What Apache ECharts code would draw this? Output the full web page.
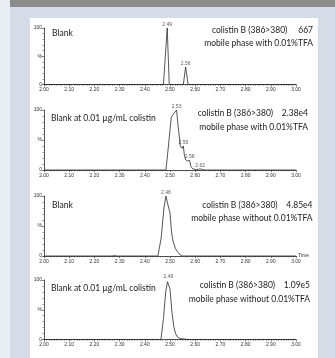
<!DOCTYPE html>
<html>
<head>
<meta charset="utf-8">
<script src="https://cdn.jsdelivr.net/npm/echarts@6/dist/echarts.min.js"></script>
<style>
  html, body { margin:0; padding:0; }
  body { width:335px; height:358px; position:relative; background:#d5dce8; overflow:hidden; }
  .abs { position:absolute; }
</style>
</head>
<body>
<div class="abs" style="left:0;top:0;width:10px;height:358px;background:#e9edf4;"></div>
<div class="abs" style="left:10px;top:0;width:325px;height:7px;background:#8c8c8c;"></div>
<div class="abs" style="left:30px;top:18px;width:288px;height:340px;background:#ffffff;"></div>
<div id="chart" class="abs" style="left:0;top:0;width:335px;height:358px;"></div>
<script>
// ---- data ----
const xTickLabels = ['2.00','2.10','2.20','2.30','2.40','2.50','2.60','2.70','2.80','2.90','3.00'];
const yTickLabels = {0:'0', 50:'%', 100:'100'};

const time1   = [2.00, 2.474, 2.489, 2.497, 2.553, 2.562, 2.572, 3.00];
const signal1 = [0,    0,     100,   0,     0,     31,    0,     0];
const peakT1  = [2.489, 2.562];
const peakY1  = [100, 31];

const time2   = [2.00, 2.484, 2.495, 2.505, 2.515, 2.526, 2.533, 2.541, 2.548, 2.553, 2.557, 2.562, 2.570, 2.578, 2.583, 2.590, 2.600, 2.612, 2.620, 2.630, 2.640, 3.00];
const signal2 = [0,    0,     45,    88,    94,    100,   70,    40,    36,    40,    25,    17,    15,    16,    6,     2,     1,     1,     2,     0.5,   0,     0];
const peakT2  = [2.526, 2.553, 2.578, 2.620];
const peakY2  = [100, 40, 16, 2];

const time3   = [2.00, 2.27, 2.28, 2.29, 2.452, 2.465, 2.476, 2.484, 2.492, 2.500, 2.506, 2.512, 2.522, 2.535, 2.548, 3.00];
const signal3 = [0,    0,    0.8,  0,    0,     30,    80,    100,   85,    72,    40,    25,    12,    4,     0,     0];
const peakT3  = [2.484];
const peakY3  = [100];

const time4   = [2.00, 2.464, 2.474, 2.483, 2.490, 2.494, 2.500, 2.508, 2.515, 2.522, 2.530, 2.540, 2.555, 2.575, 3.00];
const signal4 = [0,    0,     35,    80,    97,    100,   85,    45,    22,    10,    4,     1.5,   0.8,   0,     0];
const peakT4  = [2.494];
const peakY4  = [100];

const leftTitles  = ['Blank', 'Blank at 0.01 µg/mL colistin', 'Blank', 'Blank at 0.01 µg/mL colistin'];
const rightLine1  = ['colistin B (386>380)     667', 'colistin B (386>380)    2.38e4', 'colistin B (386>380)    4.85e4', 'colistin B (386>380)    1.09e5'];
const rightLine2  = ['mobile phase with 0.01%TFA', 'mobile phase with 0.01%TFA', 'mobile phase without 0.01%TFA', 'mobile phase without 0.01%TFA'];

const panels = [
  {t: time1, s: signal1, pt: peakT1, py: peakY1},
  {t: time2, s: signal2, pt: peakT2, py: peakY2},
  {t: time3, s: signal3, pt: peakT3, py: peakY3},
  {t: time4, s: signal4, pt: peakT4, py: peakY4}
];

// ---- layout ----
const gridTops    = [28, 110, 196, 280];
const gridHeights = [56.5, 60, 60, 59.5];
const leftPos  = [[52,34],[51,118.5],[52,205.5],[51,289]];
const rightPos = [[313,30,43.5],[308,113.5,127.5],[312.5,205.5,218.5],[310,285,299]];

const chart = echarts.init(document.getElementById('chart'), null, {renderer:'canvas'});
const lineColor = '#2b2b2b';
const tickFont = {fontFamily:'Liberation Sans', fontSize:5, color:'#333'};

const grid = [], xAxis = [], yAxis = [], series = [], graphic = [];
panels.forEach((p, i) => {
  grid.push({left:44, width:252, top:gridTops[i], height:gridHeights[i], containLabel:false});
  xAxis.push({
    type:'value', gridIndex:i, min:2, max:3, interval:0.1,
    axisLine:{lineStyle:{color:lineColor, width:0.8}},
    axisTick:{length:2, lineStyle:{color:lineColor, width:0.6}},
    minorTick:{show:true, splitNumber:10, length:1.2, lineStyle:{color:lineColor, width:0.5}},
    splitLine:{show:false},
    axisLabel:Object.assign({margin:3, formatter:(v)=>xTickLabels[Math.round((v-2)*10)]}, tickFont),
    name: i===2 ? 'Time' : '', nameLocation:'end', nameGap:2,
    nameTextStyle:{fontFamily:'Liberation Sans', fontSize:5, color:'#333', verticalAlign:'middle'}
  });
  yAxis.push({
    type:'value', gridIndex:i, min:0, max:100, interval:50,
    axisLine:{show:true, lineStyle:{color:lineColor, width:0.8}},
    axisTick:{show:true, length:2, lineStyle:{color:lineColor, width:0.6}},
    minorTick:{show:true, splitNumber:5, length:1.5, lineStyle:{color:lineColor, width:0.5}},
    splitLine:{show:false},
    axisLabel:Object.assign({margin:2, formatter:(v)=>yTickLabels[v]}, tickFont)
  });
  series.push({
    type:'line', xAxisIndex:i, yAxisIndex:i, symbol:'none', silent:true,
    data:p.t.map((t, k)=>[t, p.s[k]]),
    lineStyle:{color:lineColor, width:0.8}, animation:false
  });
  series.push({
    type:'scatter', xAxisIndex:i, yAxisIndex:i, symbolSize:0, silent:true,
    data:p.pt.map((t, k)=>[t, p.py[k]]),
    label:{show:true, position:'top', distance:1, formatter:(d)=>d.value[0].toFixed(2),
      fontFamily:'Liberation Sans', fontSize:5, color:'#333'},
    animation:false
  });
  graphic.push({type:'text', left:leftPos[i][0], top:leftPos[i][1]-5,
    style:{text:leftTitles[i], fontFamily:'Lato', fontSize:8.5, fill:'#222'}});
  graphic.push({type:'text', x:rightPos[i][0], y:rightPos[i][1],
    style:{text:rightLine1[i], fontFamily:'Lato', fontSize:8.5, fill:'#222', align:'right', verticalAlign:'middle'}});
  graphic.push({type:'text', x:rightPos[i][0], y:rightPos[i][2],
    style:{text:rightLine2[i], fontFamily:'Lato', fontSize:8.5, fill:'#222', align:'right', verticalAlign:'middle'}});
});

chart.setOption({animation:false, grid, xAxis, yAxis, series, graphic});
</script>
</body>
</html>
